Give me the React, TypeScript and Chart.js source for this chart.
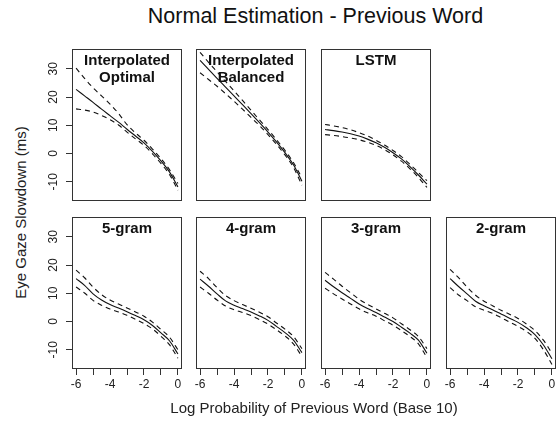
import React, { useEffect, useRef } from "react";
import { Chart, registerables } from "chart.js";

Chart.register(...registerables);

// ---------- data ----------
const xValues = [-6, -5.5, -5, -4.5, -4, -3.5, -3, -2.5, -2, -1.5, -1, -0.5, 0];
const xTicks = [-6, -5, -4, -3, -2, -1, 0];
const xTickLabels = ["-6", "", "-4", "", "-2", "", "0"];
const yTicks = [-10, 0, 10, 20, 30];
const yTickLabels = ["-10", "0", "10", "20", "30"];

const panelNames = ["Interpolated\nOptimal", "Interpolated\nBalanced", "LSTM", "5-gram", "4-gram", "3-gram", "2-gram"];

const optFit = [22.7, 20.4, 18.1, 15.7, 13.4, 11.1, 8.6, 6.2, 3.8, 0.8, -2.6, -6.5, -11.8];
const optUpper = [30.2, 26.6, 23.3, 20.4, 17.5, 14.2, 10.2, 7.3, 4.7, 1.6, -1.8, -5.7, -10.6];
const optLower = [15.8, 15.4, 14.7, 13.5, 12.0, 10.1, 7.6, 5.2, 2.9, -0.1, -3.5, -7.4, -13.0];

const balFit = [33.0, 29.8, 26.6, 23.5, 20.4, 17.3, 14.1, 10.9, 7.6, 4.1, 0.3, -4.0, -9.8];
const balUpper = [35.8, 32.3, 28.9, 25.5, 22.2, 18.8, 15.3, 11.9, 8.5, 4.9, 1.1, -3.2, -8.6];
const balLower = [28.6, 26.2, 23.8, 21.2, 18.5, 15.7, 12.8, 9.9, 6.7, 3.3, -0.5, -4.9, -11.2];

const lstmFit = [8.5, 8.1, 7.6, 7.0, 6.2, 5.1, 3.8, 2.2, 0.3, -1.9, -4.6, -7.6, -10.8];
const lstmUpper = [10.3, 9.8, 9.2, 8.4, 7.4, 6.2, 4.7, 3.0, 1.1, -1.1, -3.8, -6.7, -9.6];
const lstmLower = [6.7, 6.4, 6.0, 5.5, 4.9, 4.0, 2.9, 1.4, -0.5, -2.7, -5.4, -8.5, -12.0];

const g5Fit = [15.2, 12.8, 9.8, 7.6, 6.0, 4.8, 3.5, 2.1, 0.6, -1.4, -4.0, -6.8, -11.5];
const g5Upper = [18.2, 15.5, 12.2, 9.5, 7.6, 6.2, 4.8, 3.4, 1.9, -0.2, -2.8, -5.5, -10.0];
const g5Lower = [12.2, 10.1, 7.5, 5.8, 4.4, 3.4, 2.2, 0.8, -0.7, -2.6, -5.2, -8.2, -13.0];

const g4Fit = [15.0, 12.5, 9.8, 7.3, 5.8, 4.6, 3.4, 2.0, 0.4, -1.7, -3.9, -6.6, -11.0];
const g4Upper = [17.8, 15.2, 12.0, 9.2, 7.4, 6.0, 4.7, 3.3, 1.7, -0.5, -2.7, -5.3, -9.6];
const g4Lower = [12.2, 10.0, 7.6, 5.5, 4.2, 3.2, 2.1, 0.7, -0.9, -2.9, -5.1, -7.9, -12.4];

const g3Fit = [14.6, 12.3, 10.2, 8.2, 6.2, 4.6, 3.2, 1.6, 0.0, -2.0, -4.1, -6.6, -11.2];
const g3Upper = [17.4, 15.0, 12.5, 10.2, 7.9, 6.1, 4.5, 2.9, 1.3, -0.8, -2.9, -5.3, -9.6];
const g3Lower = [11.8, 9.8, 8.0, 6.2, 4.5, 3.1, 1.9, 0.3, -1.3, -3.2, -5.3, -7.9, -12.8];

const g2Fit = [15.2, 12.4, 9.8, 7.2, 5.6, 4.2, 2.7, 1.2, -0.3, -2.2, -4.6, -8.3, -13.2];
const g2Upper = [18.5, 15.5, 12.2, 9.3, 7.2, 5.6, 4.0, 2.6, 1.1, -0.9, -3.2, -6.6, -11.2];
const g2Lower = [12.0, 9.4, 7.4, 5.2, 4.0, 2.9, 1.4, -0.2, -1.7, -3.5, -6.0, -10.0, -15.2];

// ---------- layout / style ----------
const FONT = "'Liberation Sans', Arial, Helvetica, sans-serif";
const LINE = "#111";
const FRAME = "#333";
const TEXT = "#222";
const X_MIN = -6.24, X_MAX = 0.24;
const Y_MIN = -16.8, Y_MAX = 37;
const PAD = 4;
const Y_AXIS_W = 30;
const X_AXIS_H = 28;
const FW = 110, FH = 152;
const COLS = [72, 196, 321, 446];
const ROWS = [49, 217];

type PanelSpec = { fit: number[]; upper: number[]; lower: number[]; col: number; row: number; showX: boolean; showY: boolean };

const panels: PanelSpec[] = [
  { fit: optFit, upper: optUpper, lower: optLower, col: 0, row: 0, showX: false, showY: true },
  { fit: balFit, upper: balUpper, lower: balLower, col: 1, row: 0, showX: false, showY: false },
  { fit: lstmFit, upper: lstmUpper, lower: lstmLower, col: 2, row: 0, showX: false, showY: false },
  { fit: g5Fit, upper: g5Upper, lower: g5Lower, col: 0, row: 1, showX: true, showY: true },
  { fit: g4Fit, upper: g4Upper, lower: g4Lower, col: 1, row: 1, showX: true, showY: false },
  { fit: g3Fit, upper: g3Upper, lower: g3Lower, col: 2, row: 1, showX: true, showY: false },
  { fit: g2Fit, upper: g2Upper, lower: g2Lower, col: 3, row: 1, showX: true, showY: false },
];

const framePlugin = {
  id: "frameBox",
  afterDraw(chart: any) {
    const { ctx, chartArea: a } = chart;
    ctx.save();
    ctx.strokeStyle = FRAME;
    ctx.lineWidth = 1;
    ctx.strokeRect(Math.round(a.left) + 0.5, Math.round(a.top) + 0.5, Math.round(a.right - a.left) - 1, Math.round(a.bottom - a.top) - 1);
    ctx.restore();
  },
};

function toPts(arr: number[]) {
  return xValues.map((x, i) => ({ x, y: arr[i] }));
}

function lineDs(arr: number[], dashed: boolean) {
  return {
    data: toPts(arr),
    borderColor: LINE,
    borderWidth: 1.1,
    borderDash: dashed ? [5, 4] : [],
    pointRadius: 0,
    cubicInterpolationMode: "monotone" as const,
    fill: false,
  };
}

function Panel({ spec }: { spec: PanelSpec }) {
  const ref = useRef<HTMLCanvasElement>(null);
  const yw = spec.showY ? Y_AXIS_W : 0;
  const xh = spec.showX ? X_AXIS_H : 0;
  const left = COLS[spec.col] - PAD - yw;
  const top = ROWS[spec.row] - PAD;
  const width = FW + 2 * PAD + yw;
  const height = FH + 2 * PAD + xh;

  useEffect(() => {
    if (!ref.current) return;
    const chart = new Chart(ref.current, {
      type: "line",
      data: {
        datasets: [lineDs(spec.upper, true), lineDs(spec.fit, false), lineDs(spec.lower, true)],
      },
      options: {
        animation: false,
        responsive: false,
        maintainAspectRatio: false,
        devicePixelRatio: 1,
        events: [],
        layout: { padding: PAD },
        plugins: { legend: { display: false }, tooltip: { enabled: false }, title: { display: false } },
        scales: {
          x: {
            type: "linear",
            min: X_MIN,
            max: X_MAX,
            display: spec.showX,
            afterBuildTicks: (s: any) => {
              s.ticks = xTicks.map((v) => ({ value: v }));
            },
            afterFit: (s: any) => {
              if (spec.showX) s.height = X_AXIS_H;
              s.paddingLeft = 0;
              s.paddingRight = 0;
            },
            grid: { drawOnChartArea: false, drawTicks: true, tickLength: 6, color: FRAME, lineWidth: 1 },
            border: { display: false },
            ticks: {
              autoSkip: false,
              maxRotation: 0,
              minRotation: 0,
              padding: 2,
              color: TEXT,
              font: { family: FONT, size: 12 },
              callback: (_v: any, i: number) => xTickLabels[i],
            },
          },
          y: {
            type: "linear",
            min: Y_MIN,
            max: Y_MAX,
            display: spec.showY,
            afterBuildTicks: (s: any) => {
              s.ticks = yTicks.map((v) => ({ value: v }));
            },
            afterFit: (s: any) => {
              if (spec.showY) s.width = Y_AXIS_W;
              s.paddingTop = 0;
              s.paddingBottom = 0;
            },
            grid: { drawOnChartArea: false, drawTicks: true, tickLength: 6, color: FRAME, lineWidth: 1 },
            border: { display: false },
            ticks: {
              autoSkip: false,
              minRotation: 90,
              maxRotation: 90,
              crossAlign: "center",
              padding: 4,
              color: TEXT,
              font: { family: FONT, size: 12 },
              callback: (_v: any, i: number) => yTickLabels[i],
            },
          },
        },
      },
      plugins: [framePlugin],
    } as any);
    return () => chart.destroy();
  }, []);

  return (
    <canvas
      ref={ref}
      width={width}
      height={height}
      style={{ position: "absolute", left, top, width, height }}
    />
  );
}

export default function App() {
  return (
    <div
      style={{
        position: "fixed",
        left: 0,
        top: 0,
        width: 559,
        height: 432,
        background: "#fff",
        overflow: "hidden",
        fontFamily: FONT,
        color: TEXT,
      }}
    >
      {panels.map((p, i) => (
        <Panel key={i} spec={p} />
      ))}
      {panels.map((p, i) => (
        <div
          key={"lbl" + i}
          style={{
            position: "absolute",
            left: COLS[p.col],
            top: ROWS[p.row] + 2,
            width: FW,
            textAlign: "center",
            fontWeight: "bold",
            fontSize: 15,
            lineHeight: "17px",
            whiteSpace: "pre",
            color: "#111",
          }}
        >
          {panelNames[i]}
        </div>
      ))}
      <div
        style={{
          position: "absolute",
          left: 0,
          width: 631,
          top: 6,
          textAlign: "center",
          fontSize: 21.5,
          lineHeight: "21px",
          whiteSpace: "nowrap",
          color: "#111",
        }}
      >
        Normal Estimation - Previous Word
      </div>
      <div
        style={{
          position: "absolute",
          left: 0,
          width: 628,
          top: 400,
          textAlign: "center",
          fontSize: 15,
          lineHeight: "15px",
          whiteSpace: "nowrap",
        }}
      >
        Log Probability of Previous Word (Base 10)
      </div>
      <div
        style={{
          position: "absolute",
          left: 20 - 150,
          top: 212 - 7.5,
          width: 300,
          height: 15,
          textAlign: "center",
          fontSize: 15,
          lineHeight: "15px",
          whiteSpace: "nowrap",
          transform: "rotate(-90deg)",
          transformOrigin: "50% 50%",
        }}
      >
        Eye Gaze Slowdown (ms)
      </div>
    </div>
  );
}
